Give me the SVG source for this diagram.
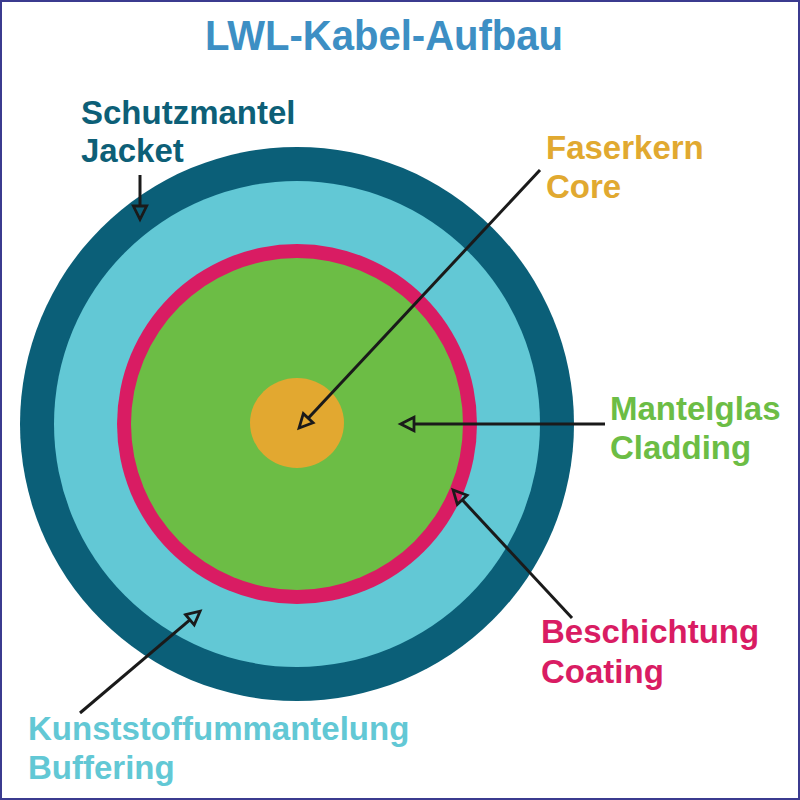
<svg xmlns="http://www.w3.org/2000/svg" width="800" height="800" viewBox="0 0 800 800">
<style>
.lbl{font-family:"Liberation Sans",Arial,sans-serif;font-weight:bold;font-size:33px}
.ar{stroke:#1a1a1a;stroke-width:3;fill:none;marker-end:url(#ah)}
</style>
<defs>
<marker id="ah" markerUnits="userSpaceOnUse" markerWidth="20" markerHeight="20" viewBox="-2 -8 18 16" refX="0" refY="0" orient="auto" overflow="visible">
<path d="M0,-6 L12,0 L0,6 Z" fill="none" stroke="#1a1a1a" stroke-width="2.5" stroke-linejoin="miter"/>
</marker>
</defs>
<rect x="0" y="0" width="800" height="800" fill="#ffffff"/>
<rect x="1" y="1" width="798" height="798" fill="none" stroke="#3b3b8f" stroke-width="2"/>
<text x="205" y="50" textLength="358" lengthAdjust="spacingAndGlyphs" font-family="Liberation Sans, Arial, sans-serif" font-weight="bold" font-size="42" fill="#3d8fc4">LWL-Kabel-Aufbau</text>
<g id="jacket"><circle cx="297" cy="424" r="277" fill="#0b5f78"/></g>
<g id="buffering"><circle cx="297" cy="424" r="243" fill="#62c8d5"/></g>
<g id="coating"><circle cx="297" cy="424" r="180" fill="#d91c63"/></g>
<g id="cladding"><circle cx="297" cy="424" r="166" fill="#6cbd45"/></g>
<g id="core"><ellipse cx="297" cy="423" rx="47" ry="45" fill="#e2a830"/></g>
<g id="connectors">
<line class="ar" x1="140" y1="175" x2="140" y2="206"/>
<line class="ar" x1="540" y1="170" x2="308.2" y2="418.2"/>
<line class="ar" x1="605" y1="424" x2="414" y2="424"/>
<line class="ar" x1="572" y1="618" x2="462.2" y2="499.8"/>
<line class="ar" x1="80" y1="713" x2="189.9" y2="619.8"/>
</g>
<g id="label-jacket" class="lbl" fill="#0d5f77"><text x="81" y="124">Schutzmantel</text><text x="81" y="162">Jacket</text></g>
<g id="label-core" class="lbl" fill="#e1a930"><text x="546" y="159">Faserkern</text><text x="546" y="198">Core</text></g>
<g id="label-cladding" class="lbl" fill="#6cbd45"><text x="610" y="420">Mantelglas</text><text x="610" y="459">Cladding</text></g>
<g id="label-coating" class="lbl" fill="#d91c63"><text x="541" y="643">Beschichtung</text><text x="541" y="683">Coating</text></g>
<g id="label-buffering" class="lbl" fill="#62c8d5"><text x="28" y="740">Kunststoffummantelung</text><text x="28" y="779">Buffering</text></g>
</svg>
